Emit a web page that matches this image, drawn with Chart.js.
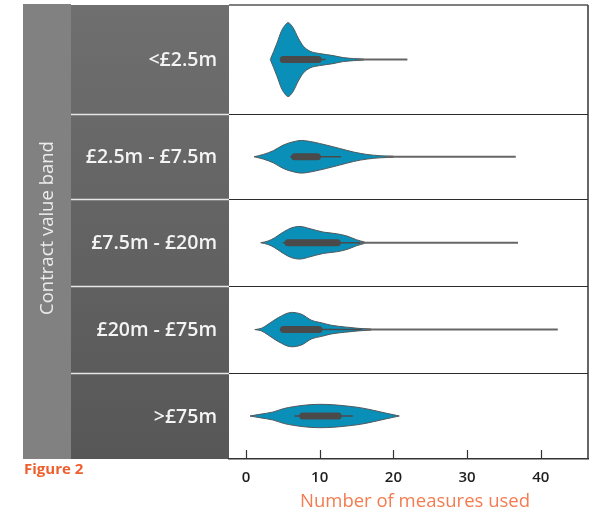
<!DOCTYPE html>
<html>
<head>
<meta charset="utf-8">
<script src="https://cdn.jsdelivr.net/npm/chart.js@4.4.1/dist/chart.umd.min.js"></script>
<style>
body{margin:0;background:#fff;}
#wrap{width:595px;height:512px;position:relative;}
</style>
</head>
<body>
<div id="wrap"><canvas id="violin" width="595" height="512"></canvas></div>
<script>
// contract value bands, top to bottom
var bands = ["<£2.5m", "£2.5m - £7.5m", "£7.5m - £20m", "£20m - £75m", ">£75m"];

// violin outlines: x = number of measures, w = half width of the density (band units)
var densX1 = [3.3, 4.2, 4.8, 5.3, 5.7, 6.4, 7.1, 7.8, 8.7, 10, 11.8, 13.2, 14.6, 16];
var densW1 = [0, 0.19, 0.33, 0.40, 0.43, 0.37, 0.25, 0.155, 0.097, 0.07, 0.047, 0.023, 0.012, 0.005];
var densX2 = [1.1, 2.35, 3.7, 5.06, 6.4, 7.5, 9.1, 10.9, 12.7, 14.6, 16.4, 18.2, 20];
var densW2 = [0, 0.027, 0.07, 0.136, 0.174, 0.19, 0.171, 0.136, 0.097, 0.055, 0.027, 0.012, 0.006];
var densX3 = [2.0, 3.0, 3.9, 5.06, 6.2, 7.3, 8.7, 10.5, 12.3, 13.7, 15, 16.1];
var densW3 = [0, 0.02, 0.058, 0.124, 0.174, 0.19, 0.163, 0.124, 0.105, 0.078, 0.035, 0.008];
var densX4 = [1.2, 2.1, 3.0, 4.4, 6.2, 7.55, 8.9, 10.3, 11.6, 13.4, 15.2, 17];
var densW4 = [0, 0.015, 0.062, 0.14, 0.2, 0.178, 0.108, 0.078, 0.05, 0.031, 0.015, 0.006];
var densX5 = [0.55, 1.9, 3.7, 5.06, 6.4, 8.2, 10, 11.8, 13.7, 15.5, 17.3, 19.1, 20.8];
var densW5 = [0, 0.02, 0.047, 0.085, 0.108, 0.128, 0.136, 0.131, 0.116, 0.097, 0.066, 0.031, 0];

// inner box: quartiles, whiskers and max
var q1      = [5.06, 6.6, 5.7, 5.1, 7.7];
var q3      = [9.8, 9.7, 12.4, 9.9, 12.5];
var whiskLo = [4.8, 6.0, 5.0, 4.6, 6.6];
var whiskHi = [10.8, 12.9, 15.5, 15.7, 14.5];
var maxVal  = [21.9, 36.6, 36.9, 42.3, 20.8];

var xTicks = [0, 10, 20, 30, 40];

var densX = [densX1, densX2, densX3, densX4, densX5];
var densW = [densW1, densW2, densW3, densW4, densW5];

// band edges on the y scale (first band is a bit taller)
var bandEdges = [0, 1.27, 2.26, 3.27, 4.28, 5.28];

var violinFill = "#0a8fb8";
var outline = "#4f5a5e";
var boxColor = "#4a4a4a";

var datasets = [];
for (var i = 0; i < bands.length; i++) {
	var c = (bandEdges[i] + bandEdges[i + 1]) / 2;
	var up = [], lo = [];
	for (var j = 0; j < densX[i].length; j++) {
		up.push({x: densX[i][j], y: c - densW[i][j]});
		lo.push({x: densX[i][j], y: c + densW[i][j]});
	}
	datasets.push({data: up, borderColor: outline, borderWidth: 1, pointRadius: 0, showLine: true,
		fill: false, cubicInterpolationMode: "monotone", order: 3});
	datasets.push({data: lo, borderColor: outline, borderWidth: 1, pointRadius: 0, showLine: true,
		fill: "-1", backgroundColor: violinFill, cubicInterpolationMode: "monotone", order: 3});

	var last = densX[i][densX[i].length - 1];
	if (maxVal[i] > last) {
		datasets.push({data: [{x: last - 1, y: c}, {x: maxVal[i], y: c}], borderColor: "#666666",
			borderWidth: 2, pointRadius: 0, showLine: true, fill: false, order: 2});
	}
	datasets.push({data: [{x: whiskLo[i], y: c}, {x: whiskHi[i], y: c}], borderColor: boxColor,
		borderWidth: 1.5, pointRadius: 0, showLine: true, fill: false, order: 1});
	datasets.push({data: [{x: q1[i], y: c}, {x: q3[i], y: c}], borderColor: boxColor,
		borderWidth: 7, borderCapStyle: "round", pointRadius: 0, showLine: true, fill: false, order: 0});
}

/* grey side panels with the band labels, plus frame and titles */
var panelPlugin = {
	id: "panels",
	beforeDraw: function(chart) {
		var ctx = chart.ctx;
		var a = chart.chartArea;
		var ys = chart.scales.y;
		ctx.save();
		ctx.fillStyle = "#ffffff";
		ctx.fillRect(0, 0, chart.width, chart.height);

		ctx.fillStyle = "#818181";
		ctx.fillRect(23, a.top - 1, 48, a.bottom - a.top + 1);

		var g = ctx.createLinearGradient(0, a.top, 0, a.bottom);
		g.addColorStop(0, "#6f6f6f");
		g.addColorStop(1, "#575757");
		ctx.fillStyle = g;
		ctx.fillRect(71, a.top, a.left - 71, a.bottom - a.top);

		ctx.strokeStyle = "#e6e6e6";
		ctx.lineWidth = 1.5;
		for (var k = 1; k < bandEdges.length - 1; k++) {
			var yy = Math.round(ys.getPixelForValue(bandEdges[k])) + 0.5;
			ctx.beginPath();
			ctx.moveTo(71, yy);
			ctx.lineTo(a.left, yy);
			ctx.stroke();
		}

		ctx.fillStyle = "#f4f4f4";
		ctx.font = '600 19.5px "Open Sans"';
		ctx.textAlign = "right";
		ctx.textBaseline = "middle";
		for (var b = 0; b < bands.length; b++) {
			var cy = ys.getPixelForValue((bandEdges[b] + bandEdges[b + 1]) / 2);
			ctx.fillText(bands[b], 217, cy + 1);
		}

		ctx.save();
		ctx.translate(48, 228);
		ctx.rotate(-Math.PI / 2);
		ctx.textAlign = "center";
		ctx.fillStyle = "#ececec";
		ctx.font = '18.5px "Open Sans"';
		ctx.fillText("Contract value band", 0, 0);
		ctx.restore();

		ctx.fillStyle = "#ef5f2d";
		ctx.font = 'bold 15px "Open Sans"';
		ctx.textAlign = "left";
		ctx.textBaseline = "middle";
		ctx.fillText("Figure 2", 24, 470);

		ctx.fillStyle = "#f47c50";
		ctx.font = '18.5px "Open Sans"';
		ctx.textAlign = "center";
		ctx.fillText("Number of measures used", 415, 502);
		ctx.restore();
	},
	afterDraw: function(chart) {
		var ctx = chart.ctx;
		var a = chart.chartArea;
		var ys = chart.scales.y;
		var xs = chart.scales.x;
		ctx.save();
		ctx.strokeStyle = "#2b2b2b";
		ctx.lineWidth = 1;
		for (var k = 1; k < bandEdges.length - 1; k++) {
			var yy = Math.round(ys.getPixelForValue(bandEdges[k])) + 0.5;
			ctx.beginPath();
			ctx.moveTo(a.left, yy);
			ctx.lineTo(a.right, yy);
			ctx.stroke();
		}
		ctx.strokeStyle = "#555555";
		ctx.lineWidth = 1.5;
		ctx.beginPath();
		ctx.moveTo(a.left, a.top);
		ctx.lineTo(a.right, a.top);
		ctx.stroke();
		ctx.strokeStyle = "#333333";
		ctx.beginPath();
		ctx.moveTo(a.right, a.top);
		ctx.lineTo(a.right, a.bottom);
		ctx.stroke();
		// tick marks point up into the plot
		ctx.lineWidth = 1.2;
		for (var t = 0; t < xTicks.length; t++) {
			var xx = Math.round(xs.getPixelForValue(xTicks[t])) + 0.5;
			ctx.beginPath();
			ctx.moveTo(xx, a.bottom);
			ctx.lineTo(xx, a.bottom - 9);
			ctx.stroke();
		}
		ctx.restore();
	}
};

var chart = new Chart(document.getElementById("violin"), {
	type: "scatter",
	data: {datasets: datasets},
	options: {
		responsive: false,
		animation: false,
		layout: {padding: {left: 229, right: 7, top: 5, bottom: 15}},
		plugins: {legend: {display: false}, tooltip: {enabled: false}},
		scales: {
			x: {
				type: "linear",
				min: -2.3,
				max: 46.4,
				grid: {display: false, drawTicks: false},
				border: {display: true, color: "#333333", width: 1.5},
				afterBuildTicks: function(scale) {
					scale.ticks = xTicks.map(function(v) { return {value: v}; });
				},
				ticks: {
					color: "#1e1e1e",
					padding: 10,
					font: {family: "Open Sans", size: 15, weight: "600"}
				}
			},
			y: {
				type: "linear",
				min: 0,
				max: 5.28,
				reverse: true,
				display: false
			}
		}
	},
	plugins: [panelPlugin]
});
</script>
</body>
</html>
